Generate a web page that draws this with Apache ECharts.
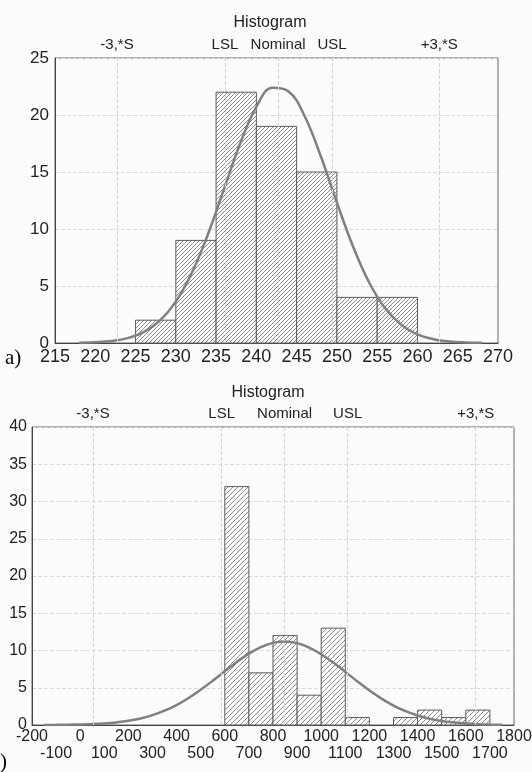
<!DOCTYPE html>
<html>
<head>
<meta charset="utf-8">
<script src="https://cdn.jsdelivr.net/npm/echarts@6/dist/echarts.min.js"></script>
<style>
  html, body { margin: 0; padding: 0; background: #fcfcfc; }
  #chart { width: 532px; height: 772px; }
</style>
</head>
<body>
<div id="chart"></div>
<script>
  // a) top histogram
  var topBinStart = [225, 230, 235, 240, 245, 250, 255];
  var topCounts = [2, 9, 22, 19, 15, 4, 4];
  var topCurveX = [218, 220, 222, 224, 226, 228, 230, 232, 234, 236, 238, 240, 242, 244, 246, 248, 250, 252, 254, 256, 258, 260, 262, 264, 266, 268];
  var topCurveY = [0.02, 0.07, 0.18, 0.43, 0.96, 1.95, 3.63, 6.17, 9.56, 13.54, 17.52, 20.72, 22.38, 22.07, 19.89, 16.38, 12.32, 8.47, 5.31, 3.04, 1.59, 0.76, 0.33, 0.13, 0.05, 0.02];
  var topMarkNames = ['-3,*S', 'LSL', 'Nominal', 'USL', '+3,*S'];
  var topMarkX = [222.7, 236.1, 242.7, 249.4, 262.7];

  // b) bottom histogram
  var botBinStart = [600, 700, 800, 900, 1000, 1100, 1200, 1300, 1400, 1500, 1600];
  var botCounts = [32, 7, 12, 4, 13, 1, 0, 1, 2, 1, 2];
  var botCurveX = [-150, -100, -50, 0, 50, 100, 150, 200, 250, 300, 350, 400, 450, 500, 550, 600, 650, 700, 750, 800, 850, 900, 950, 1000, 1050, 1100, 1150, 1200, 1250, 1300, 1350, 1400, 1450, 1500, 1550, 1600, 1650, 1700, 1750];
  var botCurveY = [0.01, 0.02, 0.04, 0.07, 0.12, 0.21, 0.35, 0.56, 0.88, 1.32, 1.92, 2.68, 3.63, 4.73, 5.95, 7.23, 8.47, 9.58, 10.46, 11.02, 11.2, 10.99, 10.4, 9.5, 8.38, 7.13, 5.85, 4.64, 3.54, 2.61, 1.86, 1.28, 0.85, 0.54, 0.34, 0.2, 0.11, 0.06, 0.03];
  var botMarkNames = ['-3,*S', 'LSL', 'Nominal', 'USL', '+3,*S'];
  var botMarkX = [53, 587, 848, 1110, 1641];

  var topBinWidth = 5;
  var botBinWidth = 100;

  function hatch(step) {
    var c = document.createElement('canvas');
    c.width = step; c.height = step;
    var g = c.getContext('2d');
    g.fillStyle = '#ffffff';
    g.fillRect(0, 0, step, step);
    g.strokeStyle = '#8c8c8c';
    g.lineWidth = 1;
    g.beginPath();
    g.moveTo(0, step); g.lineTo(step, 0);
    g.moveTo(-1, 1); g.lineTo(1, -1);
    g.moveTo(step - 1, step + 1); g.lineTo(step + 1, step - 1);
    g.stroke();
    return c;
  }

  function histItem(binWidth, pattern) {
    return function (params, api) {
      var x0 = api.value(0), n = api.value(1);
      if (!n) return null;
      var p0 = api.coord([x0, 0]);
      var p1 = api.coord([x0 + binWidth, n]);
      return {
        type: 'rect',
        shape: { x: p0[0], y: p1[1], width: p1[0] - p0[0], height: p0[1] - p1[1] },
        style: { fill: { image: pattern, repeat: 'repeat' }, stroke: '#5a5a5a', lineWidth: 1 }
      };
    };
  }

  function zip(a, b) {
    return a.map(function (v, i) { return [v, b[i]]; });
  }

  function marks(xs, names) {
    return {
      silent: true,
      symbol: ['none', 'none'],
      lineStyle: { type: 'dashed', color: '#d4d4d4', width: 1 },
      label: { show: true, position: 'end', distance: 6, formatter: '{b}', fontSize: 15, color: '#222', fontFamily: 'Liberation Sans' },
      data: xs.map(function (x, i) { return { xAxis: x, name: names[i] }; })
    };
  }

  function isOddHundred(v) {
    return Math.abs(Math.round(v / 100)) % 2 === 1;
  }

  var font = 'Liberation Sans';
  var chart = echarts.init(document.getElementById('chart'));
  var option = {
    backgroundColor: '#fcfcfc',
    animation: false,
    textStyle: { fontFamily: font },
    grid: [
      { left: 55, top: 58, width: 443, height: 285, show: true, borderColor: '#666', borderWidth: 1, outerBoundsMode: 'none' },
      { left: 32, top: 427, width: 482, height: 298, show: true, borderColor: '#666', borderWidth: 1, outerBoundsMode: 'none' }
    ],
    xAxis: [
      {
        type: 'value', gridIndex: 0, min: 215, max: 270, interval: 5,
        axisLine: { onZero: false, lineStyle: { color: '#444' } },
        axisTick: { show: false },
        splitLine: { show: false },
        axisLabel: { fontSize: 18, color: '#222', margin: 5, showMinLabel: true, showMaxLabel: true }
      },
      {
        // first row: even hundreds
        type: 'value', gridIndex: 1, position: 'bottom', offset: 0, min: -200, max: 1800, interval: 100,
        axisLine: { onZero: false, lineStyle: { color: '#444' } },
        axisTick: { show: false },
        splitLine: { show: false },
        axisLabel: {
          fontSize: 16, color: '#222', margin: 4,
          showMinLabel: true, showMaxLabel: true,
          formatter: function (v) { return isOddHundred(v) ? '' : '' + v; }
        }
      },
      {
        // second row: odd hundreds
        type: 'value', gridIndex: 1, position: 'bottom', offset: 0, min: -200, max: 1800, interval: 100,
        axisLine: { show: false, onZero: false },
        axisTick: { show: false },
        splitLine: { show: false },
        axisLabel: {
          fontSize: 16, color: '#222', margin: 21,
          showMinLabel: false, showMaxLabel: false,
          formatter: function (v) { return isOddHundred(v) ? '' + v : ''; }
        }
      }
    ],
    yAxis: [
      {
        type: 'value', gridIndex: 0, min: 0, max: 25, interval: 5,
        axisLine: { show: true, onZero: false, lineStyle: { color: '#444' } },
        axisTick: { show: false },
        splitLine: { lineStyle: { type: 'dashed', color: '#dcdcdc' } },
        axisLabel: { fontSize: 17, color: '#222', margin: 6 }
      },
      {
        type: 'value', gridIndex: 1, min: 0, max: 40, interval: 5,
        axisLine: { show: true, onZero: false, lineStyle: { color: '#444' } },
        axisTick: { show: false },
        splitLine: { lineStyle: { type: 'dashed', color: '#dcdcdc' } },
        axisLabel: { fontSize: 16, color: '#222', margin: 5 }
      }
    ],
    graphic: [
      { type: 'text', x: 270, y: 23, style: { text: 'Histogram', font: '16px "Liberation Sans"', fill: '#222', textAlign: 'center', textVerticalAlign: 'middle' } },
      { type: 'text', x: 268, y: 393, style: { text: 'Histogram', font: '16px "Liberation Sans"', fill: '#222', textAlign: 'center', textVerticalAlign: 'middle' } },
      { type: 'text', x: 5, y: 358, style: { text: 'a)', font: '21px "Liberation Serif"', fill: '#000', textVerticalAlign: 'middle' } },
      { type: 'text', x: 0, y: 762, style: { text: ')', font: '21px "Liberation Serif"', fill: '#000', textVerticalAlign: 'middle' } }
    ],
    series: [
      { type: 'line', xAxisIndex: 0, yAxisIndex: 0, data: [], z: 1, markLine: marks(topMarkX, topMarkNames) },
      {
        type: 'custom', xAxisIndex: 0, yAxisIndex: 0, z: 2,
        renderItem: histItem(topBinWidth, hatch(4)),
        encode: { x: 0, y: 1 },
        data: zip(topBinStart, topCounts)
      },
      {
        type: 'line', xAxisIndex: 0, yAxisIndex: 0, z: 3, smooth: 0.4, showSymbol: false,
        lineStyle: { color: '#808080', width: 2.5 },
        data: zip(topCurveX, topCurveY)
      },
      { type: 'line', xAxisIndex: 1, yAxisIndex: 1, data: [], z: 1, markLine: marks(botMarkX, botMarkNames) },
      {
        type: 'custom', xAxisIndex: 1, yAxisIndex: 1, z: 2,
        renderItem: histItem(botBinWidth, hatch(5)),
        encode: { x: 0, y: 1 },
        data: zip(botBinStart, botCounts)
      },
      {
        type: 'line', xAxisIndex: 1, yAxisIndex: 1, z: 3, smooth: 0.4, showSymbol: false,
        lineStyle: { color: '#808080', width: 2.5 },
        data: zip(botCurveX, botCurveY)
      }
    ]
  };
  chart.setOption(option);
</script>
</body>
</html>
